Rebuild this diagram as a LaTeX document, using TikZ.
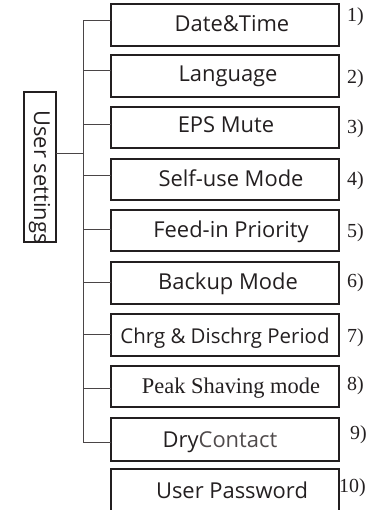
\documentclass[tikz,border=0pt]{standalone}
\usepackage{fontspec}
\setmainfont{Open Sans}
\newfontfamily\serifnum{Liberation Serif}
\newfontfamily\seriftext{Liberation Serif}
\definecolor{ink}{HTML}{231F20}
\definecolor{wire}{HTML}{4A4546}
\definecolor{lightink}{HTML}{4F4A4B}
\begin{document}
\begin{tikzpicture}[x=1bp,y=-1bp,
  itembox/.style={draw=ink,line width=1.8bp},
  rootbox/.style={draw=ink,line width=1.1bp},
  wireline/.style={draw=wire,line width=1bp},
  itemtext/.style={anchor=base,inner sep=0,font=\fontsize{22}{22}\selectfont,text=ink},
  numtext/.style={anchor=base west,inner sep=0,font=\serifnum\fontsize{20}{20}\selectfont,text=ink}]
\useasboundingbox (0,0) rectangle (376,510);
% root
\draw[rootbox] (24,92) rectangle (56,242);
\node[rotate=-90,anchor=base,inner sep=0,font=\fontsize{22}{22}\selectfont,text=ink] (root) at (34,177) {User settings};
\coordinate (rootr) at (56,154);
\coordinate (bus) at (83,154);
\coordinate (bustop) at (83,21);
\coordinate (busbot) at (83,442);
\draw[wireline] (rootr) -- (bus);
\draw[wireline] (bustop) -- (busbot);
% boxes: top, bottom, text x, baseline, label, num x, num baseline
\foreach \i/\t/\b/\tx/\bl/\lab/\nx/\nb in {
  1/4/46/232/32/{Date\&Time}/347/22,
  2/55/97/228/82/{Language}/347/84,
  3/107/148/226/133/{EPS Mute}/347/134,
  4/159/200/231/187/{Self-use Mode}/347/186,
  5/210/251/231/237/{Feed-in Priority}/347/237,
  6/262/304/228/289/{Backup Mode}/347/287,
  7/314/356/225/343/{\fontsize{20.5}{20.5}\selectfont Chrg \& Dischrg Period}/347/342,
  8/366/407/231/393/{\seriftext\fontsize{22.5}{22.5}\selectfont Peak Shaving mode}/347/390,
  9/418/461/220/447/{Dry\textcolor{lightink}{Contact}}/350/439,
  10/469/516/232/498/{User Password}/339/492}
{
  \draw[itembox] (111,\t) rectangle (339,\b);
  \coordinate (in\i) at (111,{(\t+\b)/2});
  \node[itemtext] (txt\i) at (\tx,\bl) {\lab};
  \node[numtext] (num\i) at (\nx,\nb) {\i)};
}
\foreach \i/\y in {1/21,2/71,3/125,4/176,5/229,6/282,7/334,8/388,9/442}{
  \coordinate (j\i) at (83,\y);
  \coordinate (k\i) at (111,\y);
  \draw[wireline] (j\i) -- (k\i);
}
\end{tikzpicture}
\end{document}
